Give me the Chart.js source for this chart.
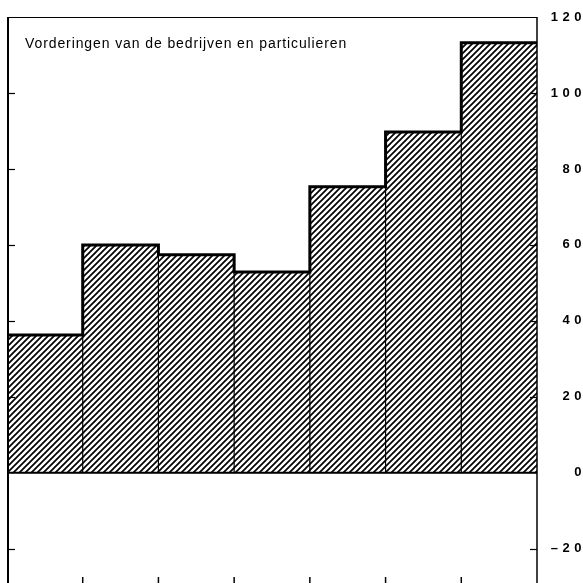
<!DOCTYPE html>
<html><head><meta charset="utf-8">
<script src="https://cdn.jsdelivr.net/npm/chart.js@4/dist/chart.umd.min.js"></script>
<style>html,body{margin:0;padding:0;background:#fff}#wrap{width:583px;height:583px}</style>
</head><body><div id="wrap"><canvas id="c" width="583" height="583"></canvas></div>
<script>
const categories = ['1','2','3','4','5','6','7'];
const values = [36.3, 60, 57.4, 52.9, 75.3, 89.7, 113.2];
const tickValues = [-20, 0, 20, 40, 60, 80, 100, 120];
const title = 'Vorderingen van de bedrijven en particulieren';

function hatch(){
  const s = 6;
  const c = document.createElement('canvas'); c.width = s; c.height = s;
  const x = c.getContext('2d');
  x.strokeStyle = '#000'; x.lineWidth = 1.7;
  x.beginPath();
  x.moveTo(-1, s+1); x.lineTo(s+1, -1);
  x.moveTo(-2, 2); x.lineTo(2, -2);
  x.moveTo(s-2, s+2); x.lineTo(s+2, s-2);
  x.stroke();
  return x.createPattern(c, 'repeat');
}

const decor = {
  id: 'decor',
  beforeDraw(chart){ chart.ctx.letterSpacing = '4.5px'; },
  afterDatasetsDraw(chart){
    const ctx = chart.ctx, a = chart.chartArea, y = chart.scales.y, xs = chart.scales.x;
    const bars = chart.getDatasetMeta(0).data;
    ctx.save();
    ctx.letterSpacing = '0px';
    ctx.strokeStyle = '#000';
    ctx.lineWidth = 1.2;
    bars.forEach((b, i) => {
      if (i === 0) return;
      const l = b.x - b.width/2;
      ctx.beginPath(); ctx.moveTo(l, Math.max(b.y, bars[i-1].y)); ctx.lineTo(l, b.base); ctx.stroke();
    });
    ctx.lineWidth = 2;
    const y0 = y.getPixelForValue(0);
    ctx.beginPath(); ctx.moveTo(a.left, y0); ctx.lineTo(a.right, y0); ctx.stroke();
    ctx.lineWidth = 3; ctx.lineJoin = 'miter'; ctx.lineCap = 'butt';
    ctx.beginPath();
    bars.forEach((b, i) => {
      const l = b.x - b.width/2, r = b.x + b.width/2;
      if (i === 0) ctx.moveTo(l + 1, b.y);
      ctx.lineTo(r, b.y);
      if (i + 1 < bars.length) ctx.lineTo(r, bars[i+1].y);
    });
    ctx.stroke();
    ctx.lineWidth = 1;
    ctx.beginPath(); ctx.moveTo(a.left, a.top + 0.5); ctx.lineTo(a.right, a.top + 0.5); ctx.stroke();
    ctx.lineWidth = 2;
    ctx.beginPath(); ctx.moveTo(a.left + 1, a.top); ctx.lineTo(a.left + 1, chart.height); ctx.stroke();
    ctx.lineWidth = 1.5;
    ctx.beginPath(); ctx.moveTo(a.right, a.top); ctx.lineTo(a.right, chart.height); ctx.stroke();
    ctx.lineWidth = 1.2;
    y.ticks.forEach(t => {
      if (t.value === 0 || t.value === 120) return;
      const p = Math.round(y.getPixelForValue(t.value)) + 0.5;
      ctx.beginPath(); ctx.moveTo(a.left + 1, p); ctx.lineTo(a.left + 8, p); ctx.stroke();
      ctx.beginPath(); ctx.moveTo(a.right - 7, p); ctx.lineTo(a.right, p); ctx.stroke();
    });
    ctx.lineWidth = 1.5;
    for (let i = 1; i < categories.length; i++) {
      const p = (xs.getPixelForValue(i - 1) + xs.getPixelForValue(i)) / 2;
      ctx.beginPath(); ctx.moveTo(p, chart.height); ctx.lineTo(p, chart.height - 6); ctx.stroke();
    }
    ctx.fillStyle = '#000';
    ctx.letterSpacing = '0.9px';
    ctx.font = '14px "Liberation Sans", Arial, sans-serif';
    ctx.textBaseline = 'middle'; ctx.textAlign = 'left';
    ctx.fillText(title, a.left + 18, 44);
    ctx.restore();
    ctx.letterSpacing = '4.5px';
  },
  afterDraw(chart){ chart.ctx.letterSpacing = '0px'; }
};

new Chart(document.getElementById('c'), {
  type: 'bar',
  data: {
    labels: categories,
    datasets: [{
      data: values,
      backgroundColor: hatch(),
      borderWidth: 0,
      categoryPercentage: 1,
      barPercentage: 1
    }]
  },
  options: {
    responsive: false,
    animation: false,
    devicePixelRatio: 1,
    layout: {padding: {left: 7, right: -3, top: 17, bottom: 0}},
    plugins: {legend: {display: false}, title: {display: false}, tooltip: {enabled: false}},
    scales: {
      x: {display: false},
      y: {
        position: 'right',
        min: -29, max: 120,
        afterBuildTicks(s){ s.ticks = tickValues.map(v => ({value: v})); },
        afterFit(s){ s.width = 49; s.paddingTop = 0; s.paddingBottom = 0; },
        grid: {display: false, drawTicks: false},
        border: {display: false},
        ticks: {
          crossAlign: 'far', padding: 0, color: '#000',
          font: {family: '"Liberation Sans", Arial, sans-serif', size: 13, weight: 'bold'},
          callback: v => v < 0 ? '\u2013' + Math.abs(v) : String(v)
        }
      }
    }
  },
  plugins: [decor]
});
</script>
</body></html>
